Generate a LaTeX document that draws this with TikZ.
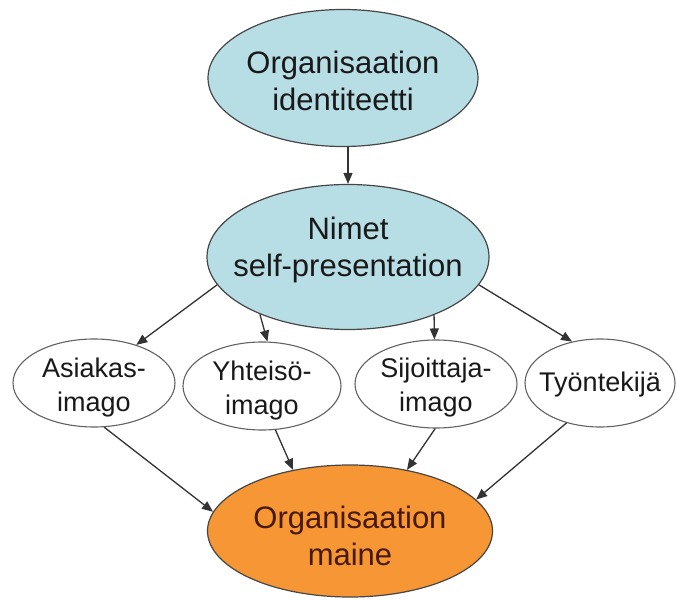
\documentclass[tikz,border=0pt]{standalone}
\usepackage{fontspec}
\setmainfont{Liberation Sans}
\usetikzlibrary{shapes.geometric,arrows.meta}
\definecolor{lblue}{RGB}{183,221,229}
\definecolor{orng}{RGB}{247,150,52}
\definecolor{edge}{RGB}{70,70,70}
\definecolor{brn}{RGB}{70,25,5}
\tikzset{
  bigell/.style={ellipse, draw=edge, line width=1.2pt, inner sep=0pt},
  smallell/.style={ellipse, draw=edge!85, line width=1.1pt, fill=white, inner sep=0pt,
     minimum height=88pt},
  bigtxt/.style={font=\fontsize{31}{37}\selectfont, align=center, text=black!90},
  smalltxt/.style={font=\fontsize{27}{34}\selectfont, align=center, text=black!90},
  conn/.style={draw=black!80, line width=1.3pt, -{Triangle[length=11pt,width=9pt]}}
}
\begin{document}
\begin{tikzpicture}[x=1pt,y=-1pt]
\useasboundingbox[fill=white] (0,0) rectangle (677,601);
\node[bigell, fill=lblue, minimum width=270pt, minimum height=137pt,
  label={[bigtxt, yshift=-3pt]center:Organisaation\\identiteetti}] (top) at (343,78) {};
\node[bigell, fill=lblue, minimum width=282pt, minimum height=145pt,
  label={[bigtxt, yshift=7pt]center:Nimet\\self-presentation}] (nimet) at (348,257) {};
\node[smallell, minimum width=162pt,
  label={[smalltxt, yshift=-5pt]center:Asiakas-\\imago}] (asiakas) at (94,383) {};
\node[smallell, minimum width=158pt,
  label={[smalltxt, yshift=-5pt]center:Yhteisö-\\imago}] (yhteiso) at (262,386) {};
\node[smallell, minimum width=162pt,
  label={[smalltxt, yshift=-4pt]center:Sijoittaja-\\imago}] (sijoittaja) at (436,384) {};
\node[smallell, minimum width=150pt,
  label={[smalltxt, yshift=-2pt]center:Työntekijä}] (tyontekija) at (600,383) {};
\node[bigell, fill=orng, minimum width=285pt, minimum height=132pt,
  label={[bigtxt, text=brn, yshift=-5pt]center:Organisaation\\maine}] (maine) at (350,531) {};

\draw[conn] (nimet.north |- top.south) -- (nimet.north);
\draw[conn] (nimet.-168) -- (asiakas.42);
\draw[conn] (nimet.-147) -- (yhteiso.83);
\draw[conn] (nimet.-34) -- (sijoittaja.92);
\draw[conn] (nimet.-12) -- (tyontekija.124);
\draw[conn] (asiakas.-77) -- (maine.172);
\draw[conn] (yhteiso.-73) -- (maine.133);
\draw[conn] (sijoittaja.-91) -- (maine.47);
\draw[conn] (tyontekija.-130) -- (maine.14);
\end{tikzpicture}
\end{document}
